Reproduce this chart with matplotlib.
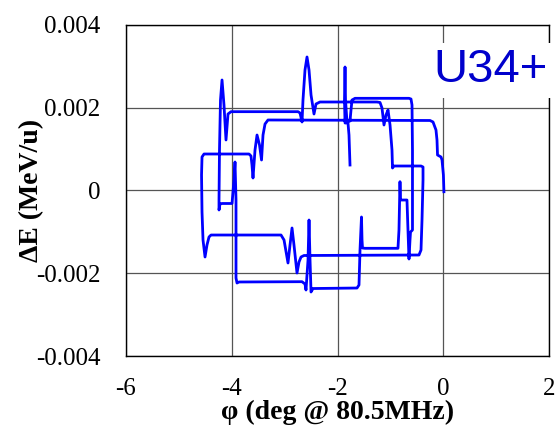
import numpy as np
import matplotlib
matplotlib.use('Agg')
import matplotlib.pyplot as plt

plt.rcParams['font.family'] = ['Liberation Serif', 'DejaVu Serif']
plt.rcParams['axes.unicode_minus'] = False

# trayectoria en el plano (fase, energia)
phi = [0.01, 0.00, -0.026, -0.045, -0.111, -0.121, -0.14, -0.196, -0.253,
       -3.313, -3.369, -3.407, -3.435, -3.473, -3.520, -3.558, -3.596, -3.615, -3.634, -3.671,
       -4.521, -4.559, -4.568, -4.559, -4.540, -4.502, -4.465, -4.427, -4.389,
       -3.067, -3.010, -2.935, -2.897, -2.859, -2.822, -2.765, -2.727, -2.689, -2.633,
       -0.461, -0.423, -0.404, -0.385, -0.385, -0.423,
       -0.933, -0.961, -0.971, -1.008, -1.046, -1.084, -1.122, -1.160, -1.197, -1.254,
       -2.331, -2.406, -2.444, -2.500, -2.538, -2.576, -2.614, -2.652, -2.670, -2.708, -2.746,
       -4.011, -4.068, -4.106, -4.144, -4.181, -4.210, -4.229, -4.238, -4.238, -4.219, -4.181,
       -3.992, -3.955, -3.936, -3.917, -3.917, -3.898, -3.860,
       -2.670, -2.614, -2.595, -2.557, -2.538, -2.519, -2.500, -2.463,
       -1.632, -1.594, -1.575, -1.547, -1.537, -1.528, -1.481,
       -0.858, -0.839, -0.820, -0.810, -0.782, -0.688, -0.669, -0.650, -0.631, -0.621,
       -0.584, -0.584, -0.593, -0.612, -0.650,
       -1.669, -1.726, -1.745, -1.764, -1.821, -1.849, -1.858, -1.868, -1.858, -1.802,
       -1.783, -1.764]
dE = [-0.00003, 0.000375, 0.000737, 0.00081, 0.000858, 0.00122, 0.001462, 0.001656, 0.001692,
      0.001704, 0.001607, 0.001341, 0.000737, 0.0011, 0.001341, 0.000979, 0.000302, 0.000616, 0.000834, 0.000882,
      0.000882, 0.00081, 0.000375, -0.00052, -0.001196, -0.001607, -0.001317, -0.001124, -0.001076,
      -0.001076, -0.001196, -0.001752, -0.001317, -0.000906, -0.001317, -0.001994, -0.001728, -0.001607, -0.001571,
      -0.001559, -0.001438, -0.000713, 0.000254, 0.000568, 0.000592,
      0.000592, 0.000544, 0.000979, 0.001583, 0.001946, 0.001825, 0.001583, 0.001994, 0.002127, 0.002139,
      0.002139, 0.002091, 0.001849, 0.002308, 0.002912, 0.003227, 0.002912, 0.002187, 0.001656, 0.001873, 0.001905,
      0.001905, 0.001849, 0.001221, 0.002066, 0.002671, 0.002187, 0.000979, -0.00023, -0.000471, -0.000326, -0.000314,
      -0.000314, 0.000254, 0.000689, -0.00023, -0.002115, -0.002236, -0.002211,
      -0.002204, -0.00226, -0.002405, -0.00168, -0.000713, -0.00168, -0.002453, -0.002369,
      -0.002357, -0.002284, -0.001438, -0.00064, -0.001196, -0.00139, -0.001397,
      -0.001397, -0.000955, 0.000213, -0.00023, -0.00023, -0.00023, -0.000955, -0.001656, -0.001196, -0.001003,
      -0.000955, 0.000979, 0.002066, 0.002211, 0.002228,
      0.002228, 0.002187, 0.001946, 0.00168, 0.001656, 0.002187, 0.002985, 0.002187, 0.001631, 0.001631,
      0.001341, 0.000616]

xticks = [-6, -4, -2, 0, 2]
xticklabels = ['-6', '-4', '-2', '0', '2']
yticks = [-0.004, -0.002, 0, 0.002, 0.004]
yticklabels = ['-0.004', '-0.002', '0', '0.002', '0.004']

fig = plt.figure(figsize=(5.58, 4.4), dpi=100)
ax = fig.add_axes([0.2253, 0.1909, 0.7591, 0.7523])

ax.plot(phi, dE, color='#0000ff', lw=2.0, solid_joinstyle='round')

ax.set_xlim(-6, 2)
ax.set_ylim(-0.004, 0.004)
ax.set_xticks(xticks)
ax.set_xticklabels(xticklabels)
ax.set_yticks(yticks)
ax.set_yticklabels(yticklabels)
ax.tick_params(length=0, labelsize=18)
ax.tick_params(axis='y', pad=18)
ax.tick_params(axis='x', pad=16)
ax.grid(True, color='#555555', lw=0.9)
ax.set_axisbelow(True)
for s in ax.spines.values():
    s.set_linewidth(1.0)

ax.set_xlabel('φ (deg @ 80.5MHz)', fontsize=20, fontweight='bold', labelpad=0)
ax.set_ylabel('ΔE (MeV/u)', fontsize=20, fontweight='bold', labelpad=-6)

fig.text(0.982, 0.84, 'U34+', ha='right', va='center', fontsize=34,
         family='Liberation Sans', color='#0000cc',
         bbox=dict(facecolor='white', edgecolor='none', pad=4))

fig.savefig('out.png', dpi=100)
